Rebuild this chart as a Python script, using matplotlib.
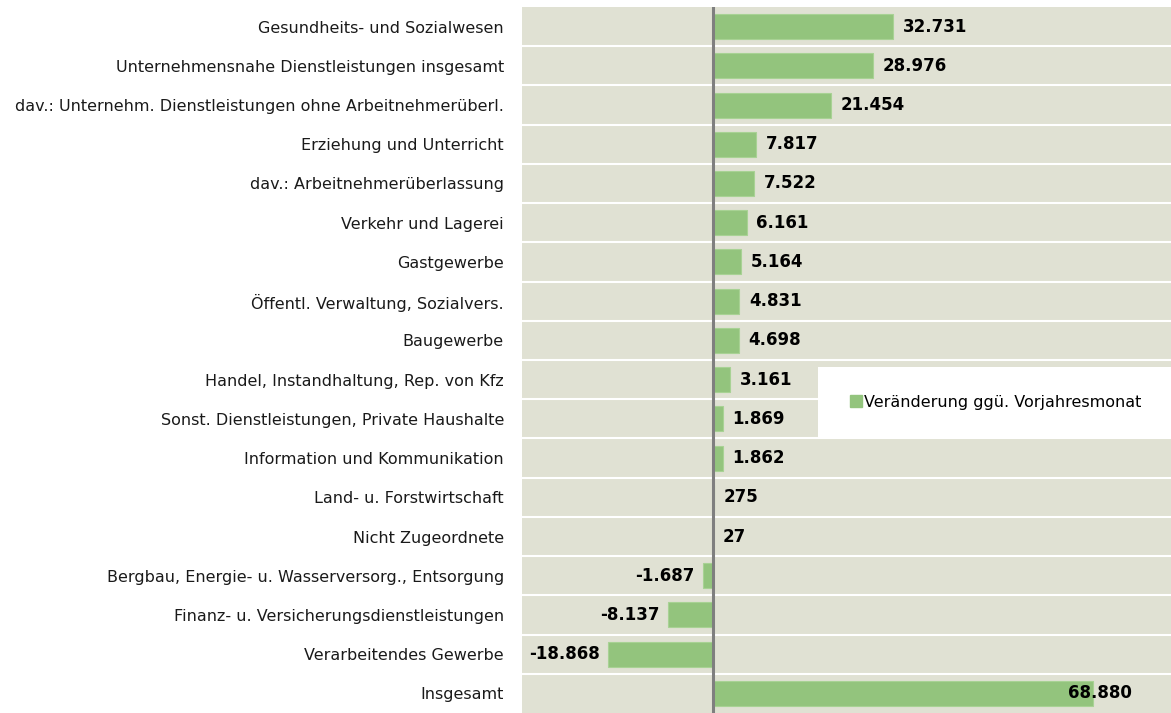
import matplotlib.pyplot as plt
from matplotlib.patches import Rectangle
from matplotlib.lines import Line2D

categories = [
    "Gesundheits- und Sozialwesen",
    "Unternehmensnahe Dienstleistungen insgesamt",
    "dav.: Unternehm. Dienstleistungen ohne Arbeitnehmerüberl.",
    "Erziehung und Unterricht",
    "dav.: Arbeitnehmerüberlassung",
    "Verkehr und Lagerei",
    "Gastgewerbe",
    "Öffentl. Verwaltung, Sozialvers.",
    "Baugewerbe",
    "Handel, Instandhaltung, Rep. von Kfz",
    "Sonst. Dienstleistungen, Private Haushalte",
    "Information und Kommunikation",
    "Land- u. Forstwirtschaft",
    "Nicht Zugeordnete",
    "Bergbau, Energie- u. Wasserversorg., Entsorgung",
    "Finanz- u. Versicherungsdienstleistungen",
    "Verarbeitendes Gewerbe",
    "Insgesamt",
]
values = [32731, 28976, 21454, 7817, 7522, 6161, 5164, 4831, 4698, 3161,
          1869, 1862, 275, 27, -1687, -8137, -18868, 68880]
series_name = "Veränderung ggü. Vorjahresmonat"

BAR = "#93C47D"
BG = "#E0E1D3"


def fmt(v):
    return f"{v:,}".replace(",", ".")


def main():
    plt.rcParams["font.family"] = ["DejaVu Sans"]
    fig = plt.figure(figsize=(11.71, 7.13), dpi=100)
    ax = fig.add_axes([522 / 1171, 0, 649 / 1171, 706 / 713])
    ax.set_facecolor(BG)

    n = len(categories)
    ys = list(range(n))
    ax.barh(ys, values, height=0.64, color=BAR, edgecolor="#A8D294", linewidth=0.8, zorder=2)
    ax.set_ylim(n - 0.5, -0.5)
    ax.set_xlim(-34500, 83000)

    for b in range(n - 1):
        ax.axhline(b + 0.5, color="white", lw=1.5, zorder=1)
    ax.axvline(0, color="#7F7F7F", lw=2.2, zorder=3)

    for y, v in zip(ys, values):
        if v < 0:
            ax.annotate(fmt(v), (v, y), xytext=(-6, 0), textcoords="offset points",
                        ha="right", va="center", fontsize=12, fontweight="bold", zorder=4)
        elif y == n - 1:
            ax.annotate(fmt(v), (v, y), xytext=(-18, 0), textcoords="offset points",
                        ha="left", va="center", fontsize=12, fontweight="bold", zorder=4)
        else:
            ax.annotate(fmt(v), (max(v, 0), y), xytext=(7, 0), textcoords="offset points",
                        ha="left", va="center", fontsize=12, fontweight="bold", zorder=4)

    ax.set_yticks(ys)
    ax.set_yticklabels(categories, fontsize=11.5, color="#1a1a1a")
    ax.tick_params(axis="y", length=0, pad=13)
    ax.set_xticks([])
    for s in ax.spines.values():
        s.set_visible(False)

    box = Rectangle((0.456, 0.391), 0.544, 0.099, transform=ax.transAxes,
                    facecolor="white", edgecolor="none", zorder=5)
    ax.add_patch(box)
    handle = Line2D([], [], marker="s", color=BAR, linestyle="none", markersize=8)
    leg = ax.legend([handle], [series_name], loc="center", bbox_to_anchor=(0.73, 0.44),
                    bbox_transform=ax.transAxes, frameon=False, fontsize=11.5,
                    handletextpad=0.1, handlelength=0.8)
    leg.set_zorder(6)

    fig.savefig("out.png", dpi=100)
    plt.close(fig)


if __name__ == "__main__":
    main()
